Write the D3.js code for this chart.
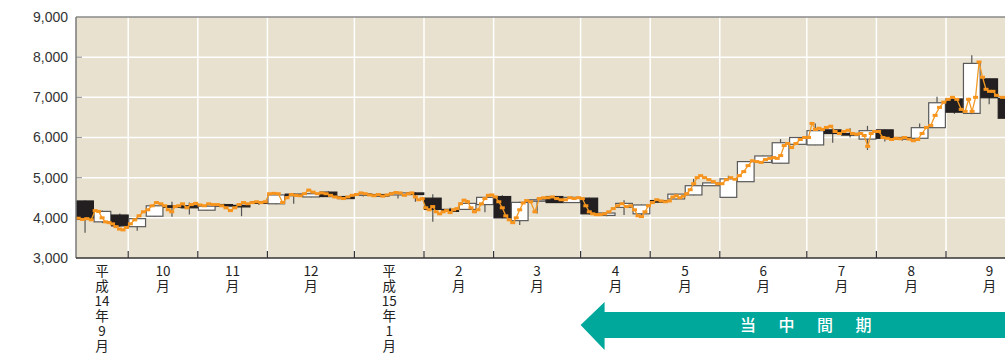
<!DOCTYPE html>
<html>
<head>
<meta charset="utf-8">
<script src="https://cdn.jsdelivr.net/npm/d3@7"></script>
<style>
  body { margin: 0; background: #fff; }
  svg { display: block; }
  .y-axis text { font-family: "Liberation Sans", Arial, sans-serif; font-size: 14px; fill: #333; }
  .month-label { font-family: "Noto Sans CJK JP", sans-serif; font-size: 13.5px; fill: #222; }
  .arrow-text { font-family: "Noto Sans CJK JP", sans-serif; font-size: 16px; fill: #fff; font-weight: 500; }
</style>
</head>
<body>
<div id="chart"></div>
<script>

// month labels (vertical text under the axis) and how many weekly candles each month has
const months = ["平成14年9月", "10月", "11月", "12月", "平成15年1月", "2月", "3月",
                "4月", "5月", "6月", "7月", "8月", "9月"];
const weeksPerMonth = [3, 4, 4, 5, 4, 4, 5, 4, 4, 5, 4, 4, 5];

const yTicks = [3000, 4000, 5000, 6000, 7000, 8000, 9000];

// weekly candles (yen)
const opens  = [4420, 3900, 4070, 3780, 4040, 4300, 4300, 4190, 4330, 4310, 4400, 4350, 4590, 4520,
                4640, 4530, 4560, 4580, 4570, 4620, 4490, 4210, 4210, 4330, 4530, 3930, 4430, 4530,
                4380, 4490, 4060, 4260, 4100, 4430, 4470, 4570, 4800, 4510, 4900, 5380, 5360, 5830,
                5815, 6190, 6100, 5960, 6190, 6000, 5980, 6245, 6960, 6600, 7460, 6975];
const highs  = [4430, 4180, 4110, 4000, 4320, 4400, 4380, 4330, 4350, 4350, 4410, 4600, 4620, 4640,
                4660, 4540, 4640, 4600, 4650, 4640, 4590, 4250, 4440, 4520, 4560, 4400, 4480, 4540,
                4530, 4500, 4150, 4440, 4330, 4460, 4600, 4970, 4880, 5050, 5410, 5550, 5960, 6010,
                6350, 6230, 6230, 6290, 6200, 6030, 6350, 7015, 7000, 8050, 7470, 7000];
const lows   = [3630, 3870, 3770, 3680, 4030, 4030, 4080, 4180, 4290, 4040, 4320, 4340, 4350, 4510,
                4520, 4470, 4530, 4540, 4480, 4400, 3900, 4120, 4200, 4140, 3990, 3820, 4110, 4370,
                4370, 4080, 4040, 4070, 4030, 4370, 4460, 4560, 4790, 4500, 4890, 5370, 5350, 5820,
                5810, 5870, 6000, 5690, 5900, 5920, 5970, 6240, 6590, 6580, 6830, 6470];
const closes = [3960, 4160, 3800, 3980, 4300, 4280, 4250, 4290, 4310, 4290, 4360, 4570, 4560, 4600,
                4530, 4480, 4600, 4560, 4620, 4580, 4210, 4160, 4360, 4510, 4000, 4385, 4450, 4380,
                4510, 4100, 4120, 4360, 4320, 4390, 4590, 4800, 4870, 4970, 5400, 5540, 5870, 6000,
                6170, 6100, 6060, 6170, 5980, 5970, 6245, 6865, 6630, 7845, 6990, 6480];

// daily closes (orange line), one row per week
const dailyCloses = [
  [3990, 3960, 3980, 3950],
  [4180, 4160, 4000, 3900, 3880],
  [3850, 3780, 3720, 3700, 3760],
  [3850, 3950, 4050, 4150],
  [4200, 4300, 4380, 4350],
  [4300, 4200, 4150, 4280, 4300],
  [4350, 4250, 4330, 4360],
  [4320, 4300, 4350, 4330],
  [4330, 4300, 4250, 4180],
  [4250, 4330, 4380, 4350],
  [4380, 4400, 4380, 4400],
  [4600, 4610, 4600, 4380],
  [4500, 4580, 4560, 4550],
  [4600, 4690, 4640, 4600],
  [4620, 4600, 4560, 4520],
  [4500, 4480, 4520, 4560],
  [4580, 4620, 4600, 4570],
  [4550, 4580, 4540, 4570],
  [4600, 4630, 4620, 4560],
  [4600, 4620, 4520, 4450, 4480],
  [4250, 4200, 4280, 4150, 4100],
  [4150, 4180, 4130, 4200, 4230],
  [4350, 4440, 4400, 4250, 4150],
  [4200, 4350, 4480, 4560, 4570],
  [4520, 4400, 4250, 4050, 3950],
  [3880, 4000, 4200, 4370, 4430],
  [4400, 4150, 4480, 4500],
  [4500, 4520, 4480, 4450],
  [4450, 4500, 4480, 4500],
  [4480, 4300, 4150, 4100, 4080],
  [4080, 4100, 4150, 4230],
  [4300, 4350, 4280, 4300],
  [4200, 4050, 4030, 4150, 4300],
  [4380, 4450, 4420, 4400],
  [4420, 4520, 4550, 4500, 4540],
  [4600, 4700, 4850, 5000, 5050],
  [5000, 4950, 4900, 4850],
  [4850, 4950, 5000, 4960],
  [5050, 5150, 5300, 5420],
  [5400, 5380, 5450, 5480],
  [5500, 5480, 5550, 5800, 5850],
  [5750, 5850, 5950, 6000],
  [6000, 6350, 6200, 6230, 6200],
  [6250, 6280, 6150, 6100],
  [6150, 6180, 6100, 6080],
  [6100, 6050, 5780, 6100, 6150],
  [6150, 6000, 5980, 5950],
  [5980, 5970, 6000, 5960],
  [5920, 5950, 6100, 6250],
  [6300, 6550, 6750, 6880],
  [6950, 7000, 6950, 6700],
  [6650, 6950, 6650, 7000, 7880],
  [7500, 7200, 7150, 7150, 7050],
  [7000, 6950]
];

const periodLabel = "当中間期";

/**
 * layout
 */
const W = 1005, H = 353;
const margin = { top: 17, left: 76, bottom: 95 };
const weekWidth = 17.4;
const totalWeeks = d3.sum(weeksPerMonth);
const plotBottom = H - margin.bottom;

const svg = d3.select("#chart")
  .append("svg")
  .attr("width", W)
  .attr("height", H);

// x: one band per week
const x = d3.scaleBand()
  .domain(d3.range(totalWeeks))
  .range([margin.left, margin.left + totalWeeks * weekWidth])
  .padding(0.04);

const xEdge = i => margin.left + i * weekWidth;

const y = d3.scaleLinear()
  .domain([3000, 9000])
  .range([plotBottom, margin.top]);

// month start indices
const monthStarts = [];
weeksPerMonth.reduce((acc, n) => { monthStarts.push(acc); return acc + n; }, 0);

// plot background
svg.append("rect")
  .attr("x", margin.left)
  .attr("y", margin.top)
  .attr("width", W - margin.left)
  .attr("height", plotBottom - margin.top)
  .attr("fill", "#e8e1cf");

// gridlines
svg.append("g")
  .selectAll("line")
  .data(yTicks.slice(1, -1))
  .join("line")
  .attr("x1", margin.left)
  .attr("x2", W)
  .attr("y1", d => y(d))
  .attr("y2", d => y(d))
  .attr("stroke", "#fff")
  .attr("stroke-width", 1.5);

svg.append("g")
  .selectAll("line")
  .data(monthStarts.slice(1))
  .join("line")
  .attr("x1", d => xEdge(d))
  .attr("x2", d => xEdge(d))
  .attr("y1", margin.top)
  .attr("y2", plotBottom)
  .attr("stroke", "#fff")
  .attr("stroke-width", 1.5);

// little inward ticks on the y axis
svg.append("g")
  .selectAll("line")
  .data(yTicks.slice(1, -1))
  .join("line")
  .attr("x1", margin.left)
  .attr("x2", margin.left + 6)
  .attr("y1", d => y(d))
  .attr("y2", d => y(d))
  .attr("stroke", "#999")
  .attr("stroke-width", 1.2);

// candles
const candles = svg.append("g")
  .selectAll("g")
  .data(d3.range(opens.length))
  .join("g");

candles.append("line")
  .attr("x1", i => x(i) + x.bandwidth() / 2)
  .attr("x2", i => x(i) + x.bandwidth() / 2)
  .attr("y1", i => y(highs[i]))
  .attr("y2", i => y(lows[i]))
  .attr("stroke", "#555")
  .attr("stroke-width", 1.2);

candles.append("rect")
  .attr("x", i => x(i))
  .attr("width", x.bandwidth())
  .attr("y", i => y(Math.max(opens[i], closes[i])))
  .attr("height", i => Math.max(1.5, Math.abs(y(opens[i]) - y(closes[i]))))
  .attr("fill", i => closes[i] >= opens[i] ? "#fff" : "#231f20")
  .attr("stroke", i => closes[i] >= opens[i] ? "#5a5a5a" : "#231f20")
  .attr("stroke-width", 1.2);

// daily close line, spread evenly inside each week
const daily = [];
dailyCloses.forEach((vals, w) => {
  vals.forEach((v, k) => {
    daily.push({ x: xEdge(w) + (k + 0.5) * weekWidth / vals.length, v: v });
  });
});

svg.append("path")
  .datum(daily)
  .attr("d", d3.line().x(d => d.x).y(d => y(d.v)))
  .attr("fill", "none")
  .attr("stroke", "#f39a26")
  .attr("stroke-width", 1.3);

svg.append("g")
  .selectAll("rect")
  .data(daily)
  .join("rect")
  .attr("x", d => d.x - 2.5)
  .attr("y", d => y(d.v) - 1.5)
  .attr("width", 5)
  .attr("height", 3)
  .attr("fill", "#f7941d");

// frame: top, left, bottom
svg.append("line")
  .attr("x1", margin.left).attr("x2", W)
  .attr("y1", margin.top).attr("y2", margin.top)
  .attr("stroke", "#8a8a8a").attr("stroke-width", 1.5);

svg.append("line")
  .attr("x1", margin.left).attr("x2", margin.left)
  .attr("y1", margin.top).attr("y2", plotBottom)
  .attr("stroke", "#7a7a7a").attr("stroke-width", 1.5);

svg.append("line")
  .attr("x1", margin.left).attr("x2", W)
  .attr("y1", plotBottom).attr("y2", plotBottom)
  .attr("stroke", "#333").attr("stroke-width", 1.5);

// month ticks on the bottom axis
svg.append("g")
  .selectAll("line")
  .data(monthStarts.slice(1))
  .join("line")
  .attr("x1", d => xEdge(d))
  .attr("x2", d => xEdge(d))
  .attr("y1", plotBottom)
  .attr("y2", plotBottom - 7)
  .attr("stroke", "#333")
  .attr("stroke-width", 1.2);

// y axis labels
const yAxis = d3.axisLeft(y)
  .tickValues(yTicks)
  .tickFormat(d3.format(","))
  .tickSize(0)
  .tickPadding(8);

svg.append("g")
  .attr("class", "y-axis")
  .attr("transform", `translate(${margin.left}, 0)`)
  .call(yAxis)
  .call(g => g.select(".domain").remove());

// vertical month labels, one glyph (or number) per row
months.forEach((label, m) => {
  const cx = xEdge(monthStarts[m]) + weeksPerMonth[m] * weekWidth / 2;
  const parts = label.match(/\d+|./g);
  const t = svg.append("text")
    .attr("class", "month-label")
    .attr("text-anchor", "middle");
  parts.forEach((p, k) => {
    t.append("tspan")
      .attr("x", cx)
      .attr("y", plotBottom + 18 + k * 15)
      .text(p);
  });
});

// "当中間期" arrow, from start of April to the right edge
const aprilStart = xEdge(monthStarts[months.indexOf("4月")]);
const shaftTop = 312, shaftBottom = 338, headTop = 302, headBottom = 350, headLen = 24;
const arrowMid = (shaftTop + shaftBottom) / 2;

svg.append("path")
  .attr("d", `M${aprilStart},${arrowMid} L${aprilStart + headLen},${headTop} L${aprilStart + headLen},${shaftTop}
              L${W},${shaftTop} L${W},${shaftBottom} L${aprilStart + headLen},${shaftBottom}
              L${aprilStart + headLen},${headBottom} Z`)
  .attr("fill", "#00a89b");

const chars = periodLabel.split("");
chars.forEach((c, k) => {
  svg.append("text")
    .attr("class", "arrow-text")
    .attr("text-anchor", "middle")
    .attr("x", 748 + k * 38.5)
    .attr("y", arrowMid + 6)
    .text(c);
});

</script>
</body>
</html>
